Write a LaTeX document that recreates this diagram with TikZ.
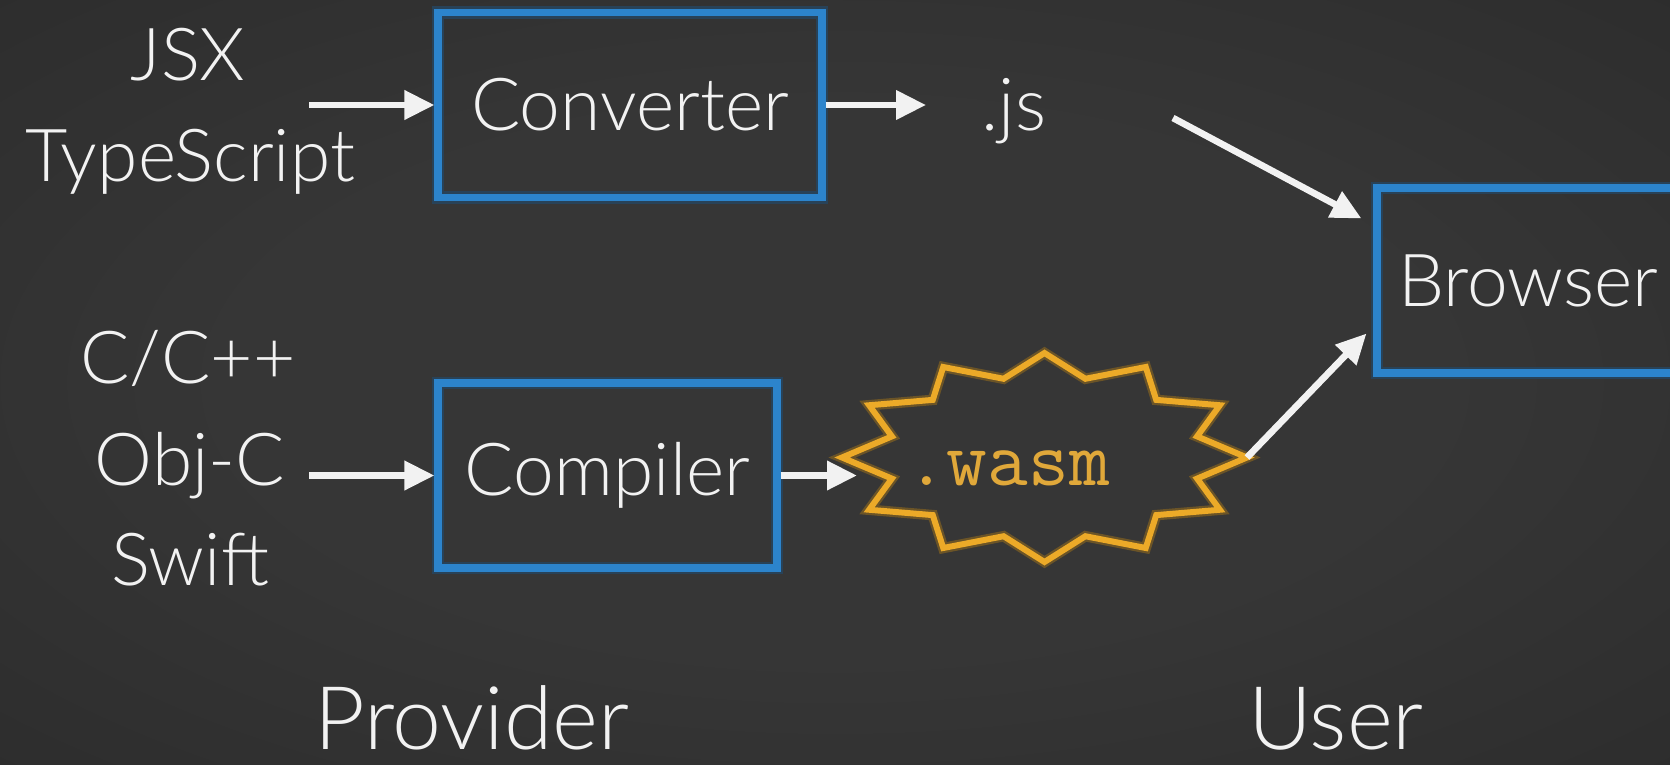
\documentclass[tikz,border=0pt]{standalone}
\usepackage{fontspec}
\setmainfont{Lato}[UprightFont=* Light]
\usepackage{tikz}
\usetikzlibrary{arrows.meta,positioning,shapes.geometric}

\definecolor{slate}{RGB}{54,54,54}
\definecolor{slateedge}{RGB}{38,38,38}
\definecolor{boxblue}{RGB}{44,132,204}
\definecolor{burstorange}{RGB}{236,170,40}
\definecolor{wasmgold}{RGB}{224,168,58}
\definecolor{chalk}{RGB}{242,242,242}

\pgfdeclareradialshading{vignette}{\pgfpoint{0bp}{0bp}}{color(0bp)=(slate); color(18bp)=(slate); color(50bp)=(slateedge); color(72bp)=(slateedge)}

\tikzset{
  stage/.style={draw=boxblue, line width=2pt, minimum height=1.85cm, inner sep=0pt,
    preaction={draw=boxblue!30!slateedge, line width=3.6pt},
    text=chalk, font=\fontsize{20.8pt}{29pt}\selectfont},
  lang/.style={text=chalk, font=\fontsize{20.8pt}{29pt}\selectfont, anchor=base, inner sep=0pt},
  side/.style={text=chalk, font=\fontsize{25pt}{30pt}\selectfont, anchor=base, inner sep=0pt},
  flow/.style={->, chalk, line width=1.9pt},
  burst/.style={draw=burstorange, line width=1.7pt, line join=miter,
    preaction={draw=burstorange!35!slateedge, line width=3pt}},
}

\begin{document}
\begin{tikzpicture}[>={Triangle[length=3mm,width=2.8mm]}]
  \useasboundingbox (0,0) rectangle (16.7,7.64);
  \clip (0,0) rectangle (16.7,7.64);
  \shade[shading=vignette] (0,0) rectangle (16.7,7.64);

  % source languages
  \node[lang] (jsx)   at (1.88,6.84) {JSX};
  \node[lang] (ts)    at (1.90,5.82) {TypeScript};
  \node[lang] (cpp)   at (1.88,3.81) {C/C++};
  \node[lang] (objc)  at (1.90,2.79) {Obj-C};
  \node[lang] (swift) at (1.90,1.79) {Swift};

  % tools and the browser
  \node[stage, minimum width=3.84cm] (converter) at (6.30,6.59) {Converter};
  \node[stage, minimum width=3.39cm] (compiler) at (6.075,2.885) {Compiler};
  \node[stage, minimum width=3.03cm] (browser) at (15.285,4.835) {Browser};

  % outputs
  \node[lang] (js) at (10.14,6.34) {.js};
  \node[ellipse, minimum width=4.05cm, minimum height=2.09cm, inner sep=0pt, outer sep=0pt] (wasm) at (10.445,3.065) {};
  \begin{scope}[shift={(wasm.center)}]
    \draw[burst] (0:2.025cm and 1.045cm)
      foreach \a in {15,45,...,345} {-- (\a:1.58cm and 0.815cm) -- (\a+15:2.025cm and 1.045cm)} -- cycle;
  \end{scope}
  \node[text=wasmgold, font=\ttfamily\fontsize{22.5pt}{24pt}\selectfont, anchor=base, inner sep=0pt] (wasmname) at (10.08,2.79) {.wasm};

  \node[side] (provider) at (4.72,0.15) {Provider};
  \node[side] (user) at (13.36,0.15) {User};

  % arrows
  \coordinate[left=1.25cm of converter.west] (webIn);
  \coordinate[left=1.25cm of compiler.west] (nativeIn);
  \coordinate (jsOut) at (11.73,6.46);
  \path[flow]
    (webIn) edge (converter)
    (converter.east) edge ([xshift=-5.5mm]converter.east -| js.west)
    (jsOut) edge ([shift={(-0.12,-0.34)}]browser.north west)
    (nativeIn) edge (compiler)
    (compiler.east) edge ([xshift=1.5mm]compiler.east -| wasm.west)
    (wasm.east) edge ([shift={(-0.07,0.43)}]browser.south west);
\end{tikzpicture}
\end{document}
